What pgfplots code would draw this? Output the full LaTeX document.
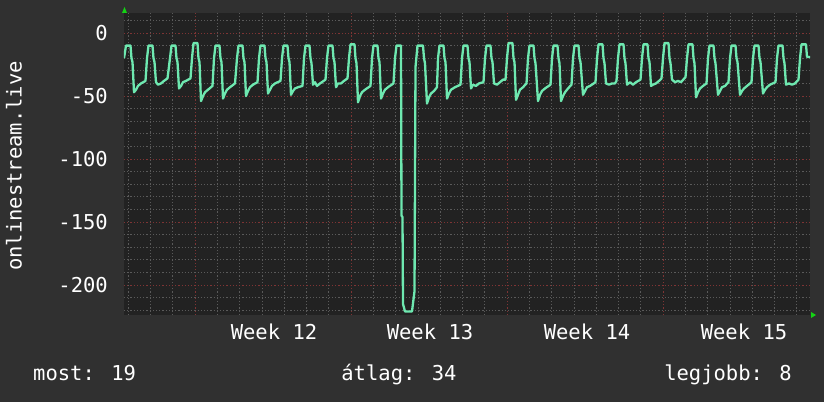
\documentclass[border=0pt]{standalone}
\usepackage{pgfplots}
\pgfplotsset{compat=1.18}
\usepackage{fontspec}
\setmainfont{DejaVu Sans Mono}
\definecolor{bgouter}{HTML}{303030}
\definecolor{plotbg}{HTML}{222222}
\definecolor{gridminor}{HTML}{5A5A5A}
\definecolor{gridmajor}{HTML}{7E3434}
\definecolor{trace}{RGB}{110,232,176}
\definecolor{arrowgreen}{RGB}{20,210,20}
\newcommand\rrdfont{\fontsize{20.5bp}{24bp}\selectfont}

\begin{document}
\begin{tikzpicture}
\fill[bgouter] (-124bp,-87bp) rectangle (700bp,315bp);
\begin{axis}[
  scale only axis, width=686bp, height=302bp,
  xmin=124, xmax=810, ymin=-223.8, ymax=15.9,
  axis background/.style={fill=plotbg},
  axis line style={draw=none},
  xtick={195,351,507,663}, xticklabels={},
  minor xtick={128.1,150.4,172.7,217.3,239.6,261.9,284.1,306.4,328.7,
    373.3,395.6,417.9,440.1,462.4,484.7,529.3,551.6,573.9,596.1,618.4,640.7,
    685.3,707.6,729.9,752.1,774.4,796.7},
  ytick={-200,-150,-100,-50,0}, yticklabels={-200,-150,-100,-50,0},
  minor ytick={-220,-210,-190,-180,-170,-160,-140,-130,-120,-110,-90,-80,-70,-60,-40,-30,-20,-10,10},
  grid=both,
  major grid style={draw=gridmajor, line width=0.8bp, dash pattern=on 1.2bp off 2bp},
  minor grid style={draw=gridminor, line width=0.8bp, dash pattern=on 1.2bp off 2bp},
  major tick length=0pt, minor tick length=0pt,
  yticklabel style={anchor=east, inner sep=0pt, xshift=-16bp, text=white, font=\rrdfont},
]
\addplot[color=trace, line width=2.3bp, line join=round] coordinates {
(124,-20)(126,-10)(130.5,-10)(131.5,-20)(132.5,-23)(134,-47)(136,-45)(138,-42)(141,-40)(145.5,-38)
(147,-20)(148.5,-10)(152.5,-10)(153.5,-20)(154.5,-23)(156,-39)(158,-41)(161,-40)(164,-38)(167.5,-36)
(170,-20)(171.5,-10)(175.5,-10)(176.5,-20)(177.5,-23)(179,-44)(181,-42)(183,-39)(186,-38)(190.5,-36)
(192,-20)(193.5,-8)(197.5,-8)(198.5,-20)(199.5,-23)(201,-54)(203,-50)(205,-47)(208,-45)(212.5,-42)
(214,-20)(215.5,-10)(219.5,-10)(220.5,-20)(221.5,-23)(223,-52)(225,-48)(227,-45)(230,-43)(235,-40)
(237,-20)(238.5,-10)(242.5,-10)(243.5,-20)(244.5,-23)(246,-50)(248,-46)(250,-43)(253,-41)(257.5,-39)
(259,-20)(260.5,-10)(264.5,-10)(265.5,-20)(266.5,-23)(268,-48)(270,-45)(272,-42)(275,-40)(280.5,-38)
(282,-20)(283.5,-10)(287.5,-10)(288.5,-20)(289.5,-23)(291,-49)(293,-46)(295,-44)(298,-43)(302.5,-42)
(304,-20)(305.5,-10)(309.5,-10)(310.5,-20)(311.5,-24)(313,-41)(315,-39)(317,-42)(320,-40)(325.5,-37)
(327,-20)(328.5,-10)(332.5,-10)(333.5,-20)(334.5,-23)(336,-43)(338,-40)(341,-40)(344,-38)(347.5,-36)
(349,-20)(350.5,-9)(354.5,-9)(355.5,-20)(356.5,-24)(358,-55)(360,-50)(362,-47)(365,-45)(370.5,-42)
(372,-20)(373.5,-10)(377.5,-10)(378.5,-20)(379.5,-23)(381,-52)(383,-48)(385,-45)(388,-43)(393.5,-40)
(395,-20)(396.5,-10)(401,-10)(401.5,-145)(402.5,-146)(403,-215)(405,-221)(412,-221)(414.5,-205)(415.5,-27)
(417.5,-10)(423,-10)(424,-20)(425,-24)(427,-56)(429,-51)(431,-48)(434,-46)(437,-43)
(438,-20)(439.5,-10)(443.5,-10)(444.5,-20)(445.5,-23)(447,-52)(449,-48)(451,-45)(455,-43)(460.5,-41)
(462,-20)(463.5,-10)(467.5,-10)(468.5,-20)(469.5,-23)(471,-44)(473,-41)(476,-42)(479,-40)(483.5,-39)
(485,-20)(486.5,-10)(490.5,-10)(491.5,-20)(492.5,-23)(494,-40)(497,-41)(500,-39)(503,-37)(505.5,-37)
(507,-20)(508.5,-8)(512.5,-8)(513.5,-20)(514.5,-23)(516,-53)(518,-49)(520,-45)(523,-43)(526.5,-40)
(528,-20)(529.5,-10)(533.5,-10)(534.5,-20)(535.5,-24)(538,-54)(540,-49)(542,-46)(545,-44)(550.5,-41)
(552,-20)(553.5,-10)(557.5,-10)(558.5,-20)(559.5,-24)(561,-54)(563,-50)(565,-47)(568,-44)(571.5,-41)
(573,-20)(574.5,-10)(578.5,-10)(579.5,-20)(580.5,-23)(583,-49)(585,-46)(587,-43)(590,-42)(595.5,-39)
(597,-20)(598.5,-9)(602.5,-9)(603.5,-20)(604.5,-24)(606,-40)(609,-41)(612,-40)(615,-40)(616.5,-38)
(618,-20)(619.5,-9)(623.5,-9)(624.5,-20)(625.5,-24)(627,-41)(630,-39)(633,-41)(636,-39)(640.5,-37)
(642,-20)(643.5,-9)(647.5,-9)(648.5,-20)(649.5,-23)(651,-42)(653,-41)(656,-40)(659,-38)(661.5,-36)
(663,-20)(664.5,-8)(668.5,-8)(669.5,-20)(670.5,-24)(672,-37)(675,-39)(678,-38)(681,-39)(685.5,-35)
(687,-20)(688.5,-9)(692.5,-9)(693.5,-20)(694.5,-24)(696,-51)(698,-47)(700,-44)(703,-42)(706.5,-40)
(708,-20)(709.5,-10)(713.5,-10)(714.5,-20)(715.5,-24)(718,-49)(720,-46)(722,-43)(725,-42)(728.5,-39)
(730,-20)(731.5,-10)(735.5,-10)(736.5,-20)(737.5,-23)(740,-49)(742,-46)(744,-44)(747,-42)(751.5,-39)
(753,-20)(754.5,-10)(758.5,-10)(759.5,-20)(760.5,-23)(763,-48)(765,-45)(767,-43)(770,-41)(775.5,-39)
(777,-20)(778.5,-10)(782.5,-10)(783.5,-20)(784.5,-24)(786,-41)(789,-40)(792,-41)(795,-40)(798.5,-37)
(800,-20)(801.5,-9)(806,-9)(807,-19)(810,-19)
};
\end{axis}
% axis arrows
\fill[arrowgreen] (0.5bp,308bp) -- (-2bp,302bp) -- (3bp,302bp) -- cycle;
\fill[arrowgreen] (692bp,0bp) -- (687bp,3bp) -- (687bp,-3bp) -- cycle;
% labels
\begin{scope}[every node/.style={text=white, font=\rrdfont, inner sep=0pt}]
\node[anchor=base] at (150bp,-24bp) {Week 12};
\node[anchor=base] at (306bp,-24bp) {Week 13};
\node[anchor=base] at (463bp,-24bp) {Week 14};
\node[anchor=base] at (620bp,-24bp) {Week 15};
\node[rotate=90] at (-110bp,149bp) {onlinestream.live};
\node[anchor=base west] at (-91bp,-65bp) {most: 19};
\node[anchor=base] at (275bp,-65bp) {átlag: 34};
\node[anchor=base east] at (668bp,-65bp) {legjobb: 8};
\end{scope}
\pgfresetboundingbox
\useasboundingbox (-124bp,-87bp) rectangle (700bp,315bp);
\end{tikzpicture}
\end{document}
